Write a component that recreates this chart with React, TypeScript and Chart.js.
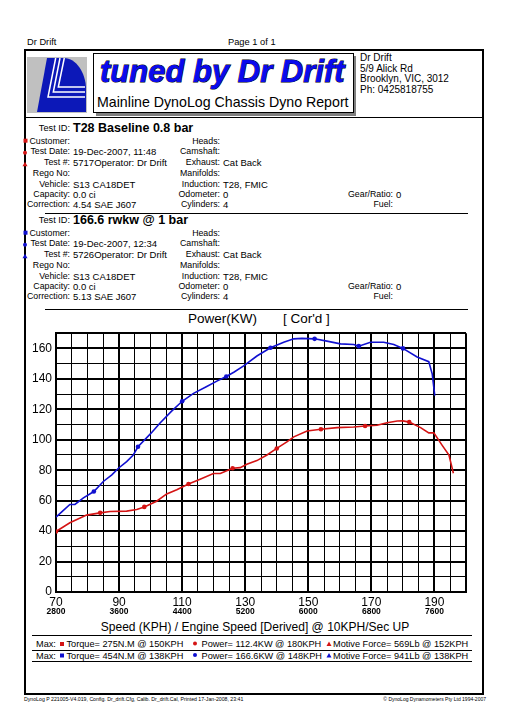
import React, { useEffect, useRef } from "react";
import { Chart, registerables } from "chart.js";

Chart.register(...registerables);

// ---------- DATA ----------
// Run 1 (red): T28 Baseline 0.8 bar
const RED_KPH = [70, 74.4, 79.7, 84, 87.1, 92.4, 95.6, 98, 101.9, 105.1, 108.3, 112, 115.7, 119.9, 122.1, 126, 128.4, 130.5, 133.7, 136.9, 140, 143.2, 145.4, 149.6, 154, 159.1, 164.4, 168, 171.8, 175, 178.2, 180, 182, 185.6, 188.2, 189.8, 192.4, 194.6, 196];
const RED_KW = [39.7, 45.5, 50.5, 52, 52.9, 53.1, 54.2, 55.9, 59.6, 64.4, 67.2, 70.9, 74.1, 77.8, 77.8, 81.3, 81.7, 83.9, 86.3, 90, 94.3, 98.6, 101.9, 105.8, 106.9, 108, 108.4, 109, 109.5, 111.2, 112.3, 112.4, 111.6, 108, 104.5, 104.5, 96.5, 90, 78];
const RED_MARKS = [70, 84, 98, 112, 126, 140, 154, 168, 182];

// Run 2 (blue): 166.6 rwkw @ 1 bar
const BLUE_KPH = [70, 72, 74.4, 76, 78.7, 82, 85, 87.7, 89.8, 92.4, 94.5, 96, 100, 103, 106.5, 110, 113.6, 117.8, 121, 124, 126.5, 129.5, 133.7, 138, 142.2, 145.4, 148, 152, 155.9, 160.2, 164.4, 166, 169.7, 173.9, 177.1, 180, 184.5, 188.2, 189.3, 190.1];
const BLUE_KW = [49.2, 53, 57.5, 57.5, 61.8, 66, 72.6, 77, 81.3, 85.6, 90, 95.4, 104, 111, 118.5, 125.3, 130.5, 135, 138.5, 141.6, 144.5, 148.5, 155, 160.4, 164.1, 166.3, 166.6, 166.3, 164.8, 163, 162.6, 161.5, 164.1, 164.1, 162.6, 160, 154.4, 151.3, 143.1, 129];
const BLUE_MARKS = [82, 96, 110, 124, 138, 152, 166, 180];

// Axes
const KPH_MIN = 70;
const KPH_MAX = 200;
const KPH_GRID_STEP = 5;
const KPH_MAJOR_STEP = 20;
const RPM_MIN = 2800;
const RPM_MAX = 8000;
const RPM_LABELS = [2800, 3600, 4400, 5200, 6000, 6800, 7600];
const KW_MIN = 0;
const KW_MAX = 170;
const KW_GRID_STEP = 10;
const KW_MAJOR_STEP = 20;

// Text content
const HEADER_LEFT = "Dr Drift";
const HEADER_PAGE = "Page 1 of 1";
const ADDRESS = ["Dr Drift", "5/9 Alick Rd", "Brooklyn, VIC, 3012", "Ph: 0425818755"];
const TITLE = "tuned by Dr Drift";
const SUBTITLE = "Mainline DynoLog Chassis Dyno Report";
const COL1_LABELS = ["Customer:", "Test Date:", "Test #:", "Rego No:", "Vehicle:", "Capacity:", "Correction:"];
const COL2_LABELS = ["Heads:", "Camshaft:", "Exhaust:", "Manifolds:", "Induction:", "Odometer:", "Cylinders:"];
const COL2_VALUES = ["", "", "Cat Back", "", "T28, FMIC", "0", "4"];
const RUN1_TITLE = "T28 Baseline 0.8 bar";
const RUN2_TITLE = "166.6 rwkw @ 1 bar";
const RUN1_COL1 = ["", "19-Dec-2007, 11:48", "5717Operator: Dr Drift", "", "S13 CA18DET", "0.0 ci", "4.54 SAE J607"];
const RUN2_COL1 = ["", "19-Dec-2007, 12:34", "5726Operator: Dr Drift", "", "S13 CA18DET", "0.0 ci", "5.13 SAE J607"];
const CHART_TITLE_A = "Power(KW)";
const CHART_TITLE_B = "[ Cor'd ]";
const X_TITLE = "Speed (KPH) / Engine Speed [Derived] @ 10KPH/Sec UP";
const MAX1 = ["Torque= 275N.M @ 150KPH", "Power= 112.4KW @ 180KPH", "Motive Force= 569Lb @ 152KPH"];
const MAX2 = ["Torque= 454N.M @ 138KPH", "Power= 166.6KW @ 148KPH", "Motive Force= 941Lb @ 138KPH"];
const FOOT_LEFT = "DynoLog P 221005-V4.019, Config. Dr_drift.Cfg, Calib. Dr_drift.Cal, Printed 17-Jan-2008, 23:41";
const FOOT_RIGHT = "\u00A9 DynoLog Dynamometers Pty Ltd 1994-2007";

const RED = "#d41414";
const BLUE = "#1010d0";
const W = 513;
const H = 728;
const FONT = '"Liberation Sans", Arial, Helvetica, sans-serif';

function range(a: number, b: number, s: number) {
  const r: number[] = [];
  for (let v = a; v <= b + 1e-9; v += s) r.push(Math.round(v * 1000) / 1000);
  return r;
}

function T({ x, y, t, s = 9.5, b = false, anchor = "start", fill = "#000" }: any) {
  return (
    <text x={x} y={y} fontSize={s} fontFamily={FONT} fontWeight={b ? "bold" : "normal"} textAnchor={anchor} dominantBaseline="central" fill={fill} style={{ whiteSpace: "pre" }}>
      {t}
    </text>
  );
}

function Marker({ kind, x, y, color }: any) {
  if (kind === 0) return <rect x={x - 2} y={y - 2} width={4} height={4} fill={color} />;
  if (kind === 1) return <circle cx={x} cy={y} r={2} fill={color} />;
  return <polygon points={`${x},${y - 2.5} ${x + 2.5},${y + 2} ${x - 2.5},${y + 2}`} fill={color} />;
}

function RunBlock({ base, title, col1, color }: any) {
  const offs = [12.7, 23.3, 34.3, 45, 56, 66, 76];
  const LS = 8.8;
  return (
    <g>
      <T x={70} y={base} t="Test ID:" s={9.2} anchor="end" />
      <T x={73} y={base} t={title} s={12.5} b />
      {COL1_LABELS.map((l, i) => (
        <g key={i}>
          <T x={70} y={base + offs[i]} t={l} s={LS} anchor="end" />
          <T x={73} y={base + offs[i]} t={col1[i]} />
          <T x={220} y={base + offs[i]} t={COL2_LABELS[i]} s={LS} anchor="end" />
          <T x={223} y={base + offs[i]} t={COL2_VALUES[i]} />
        </g>
      ))}
      <T x={393} y={base + offs[5]} t="Gear/Ratio:" s={LS} anchor="end" />
      <T x={396} y={base + offs[5]} t="0" />
      <T x={393} y={base + offs[6]} t="Fuel:" s={LS} anchor="end" />
      <Marker kind={0} x={25.5} y={base + offs[0]} color={color} />
      <Marker kind={1} x={25} y={base + offs[1] + 1.5} color={color} />
      <Marker kind={2} x={25} y={base + offs[2] + 2} color={color} />
    </g>
  );
}

function MaxRow({ y, items, color }: any) {
  return (
    <g>
      <T x={36} y={y} t="Max:" s={9.2} />
      <Marker kind={0} x={62} y={y} color={color} />
      <T x={66.5} y={y} t={items[0]} s={9.2} />
      <Marker kind={1} x={195} y={y - 0.5} color={color} />
      <T x={201.5} y={y} t={items[1]} s={9.2} />
      <Marker kind={2} x={329} y={y} color={color} />
      <T x={333} y={y} t={items[2]} s={9.2} />
    </g>
  );
}

function DynoChart() {
  const ref = useRef<HTMLCanvasElement>(null);
  useEffect(() => {
    if (!ref.current) return;
    Chart.defaults.font.family = FONT;
    const kphGrid = range(KPH_MIN, KPH_MAX, KPH_GRID_STEP);
    const kwGrid = range(KW_MIN, KW_MAX, KW_GRID_STEP);
    const isMajorX = (v: number) => (v - KPH_MIN) % KPH_MAJOR_STEP === 0 || v === KPH_MAX;
    const isMajorY = (v: number) => v % KW_MAJOR_STEP === 0 || v === KW_MAX;
    const mk = (xs: number[], ys: number[]) => xs.map((x, i) => ({ x, y: ys[i] }));
    const chart = new Chart(ref.current, {
      type: "line",
      data: {
        datasets: [
          {
            label: RUN1_TITLE,
            data: mk(RED_KPH, RED_KW),
            borderColor: RED,
            backgroundColor: RED,
            borderWidth: 1.6,
            tension: 0,
            pointRadius: (c: any) => (c.raw && RED_MARKS.includes(c.raw.x) ? 2.3 : 0),
            pointHoverRadius: 0,
            pointBorderWidth: 0,
          },
          {
            label: RUN2_TITLE,
            data: mk(BLUE_KPH, BLUE_KW),
            borderColor: BLUE,
            backgroundColor: BLUE,
            borderWidth: 1.6,
            tension: 0,
            pointRadius: (c: any) => (c.raw && BLUE_MARKS.includes(c.raw.x) ? 2.3 : 0),
            pointHoverRadius: 0,
            pointBorderWidth: 0,
          },
        ],
      },
      options: {
        animation: false,
        responsive: false,
        maintainAspectRatio: false,
        layout: { padding: { top: 7, right: 18, left: 0, bottom: 0 } },
        plugins: { legend: { display: false }, tooltip: { enabled: false }, title: { display: false } },
        scales: {
          x: {
            type: "linear",
            min: KPH_MIN,
            max: KPH_MAX,
            position: "bottom",
            afterBuildTicks: (s: any) => {
              s.ticks = kphGrid.map((v) => ({ value: v }));
            },
            afterFit: (s: any) => {
              s.height = 15;
            },
            grid: {
              color: "#000",
              drawTicks: false,
              lineWidth: (c: any) => (c.tick && isMajorX(c.tick.value) ? 2 : 1),
            },
            border: { color: "#000", width: 2 },
            ticks: {
              autoSkip: false,
              maxRotation: 0,
              padding: 3,
              color: "#000",
              font: { size: 12 },
              callback: (v: any) => ((v - KPH_MIN) % KPH_MAJOR_STEP === 0 && v < KPH_MAX ? String(v) : ""),
            },
          },
          rpm: {
            type: "linear",
            min: RPM_MIN,
            max: RPM_MAX,
            position: "bottom",
            afterBuildTicks: (s: any) => {
              s.ticks = RPM_LABELS.map((v) => ({ value: v }));
            },
            afterFit: (s: any) => {
              s.height = 15;
            },
            grid: { display: false, drawTicks: false },
            border: { display: false },
            ticks: {
              autoSkip: false,
              maxRotation: 0,
              padding: 0,
              color: "#000",
              font: { size: 8.5, weight: "bold" },
              callback: (v: any) => String(v),
            },
          },
          y: {
            type: "linear",
            min: KW_MIN,
            max: KW_MAX,
            afterBuildTicks: (s: any) => {
              s.ticks = kwGrid.map((v) => ({ value: v }));
            },
            afterFit: (s: any) => {
              s.width = 40;
            },
            grid: {
              color: "#000",
              drawTicks: false,
              lineWidth: (c: any) => (c.tick && isMajorY(c.tick.value) ? 2 : 1),
            },
            border: { color: "#000", width: 2 },
            ticks: {
              autoSkip: false,
              padding: 4,
              color: "#000",
              font: { size: 12 },
              callback: (v: any) => (v % KW_MAJOR_STEP === 0 && v < KW_MAX ? String(v) : ""),
            },
          },
        },
      } as any,
    });
    return () => chart.destroy();
  }, []);
  return <canvas ref={ref} width={468} height={300} style={{ position: "absolute", left: 16, top: 322, width: 468, height: 300 }} />;
}

export default function App() {
  return (
    <div style={{ position: "absolute", left: 0, top: 0, width: W, height: H, background: "#fff", overflow: "hidden" }}>
      <svg width={W} height={H} style={{ position: "absolute", left: 0, top: 0 }}>
        <T x={27} y={42} t={HEADER_LEFT} s={9.3} />
        <T x={228} y={42} t={HEADER_PAGE} s={9.3} />
        {/* outer frame */}
        <rect x={25} y={50} width={458} height={644} fill="none" stroke="#000" strokeWidth={2} />
        {/* logo */}
        <g transform="translate(27,57)">
          <rect x={0} y={0} width={60} height={56} fill="#c0c0c0" />
          <path d="M20,1 L37,1 C49,1 59,16 59,32 L59,55 L10,55 Z" fill="#0c18b8" />
          <polyline points="28.7,1 21,40 58,40" fill="none" stroke="#fff" strokeWidth={1.5} />
          <polyline points="33,1 26.3,35 58,35" fill="none" stroke="#fff" strokeWidth={1.5} />
          <polyline points="37.3,1 31.3,30 58,30" fill="none" stroke="#fff" strokeWidth={1.5} />
        </g>
        {/* title box */}
        <rect x={96} y={56} width={260} height={60} fill="#808080" />
        <rect x={93.5} y={53.5} width={260} height={59} fill="#fff" stroke="#000" strokeWidth={1} />
        <text x={100} y={82} fontSize={31} fontFamily={FONT} fontWeight="bold" fontStyle="italic" fill="#0a0aee" stroke="#000" strokeWidth={1} style={{ paintOrder: "stroke" }}>
          {TITLE}
        </text>
        <text x={97} y={106.5} fontSize={14.2} fontFamily={FONT} fill="#000">
          {SUBTITLE}
        </text>
        {ADDRESS.map((a, i) => (
          <T key={i} x={360} y={57.5 + i * 10.6} t={a} s={10} />
        ))}
        <line x1={25} x2={483} y1={117.5} y2={117.5} stroke="#000" strokeWidth={1} />
        <RunBlock base={128} title={RUN1_TITLE} col1={RUN1_COL1} color={RED} />
        <line x1={45} x2={468} y1={213.5} y2={213.5} stroke="#000" strokeWidth={1} />
        <RunBlock base={220} title={RUN2_TITLE} col1={RUN2_COL1} color={BLUE} />
        <line x1={45} x2={468} y1={309.5} y2={309.5} stroke="#000" strokeWidth={1} />
        <T x={188} y={318} t={CHART_TITLE_A} s={13.5} />
        <T x={283} y={318} t={CHART_TITLE_B} s={13.5} />
        <T x={255} y={627} t={X_TITLE} s={12} anchor="middle" />
        <line x1={32} x2={472} y1={635.5} y2={635.5} stroke="#000" strokeWidth={1} />
        <MaxRow y={644} items={MAX1} color={RED} />
        <line x1={32} x2={472} y1={650.5} y2={650.5} stroke="#000" strokeWidth={1} />
        <MaxRow y={655.5} items={MAX2} color={BLUE} />
        <line x1={32} x2={472} y1={661.5} y2={661.5} stroke="#000" strokeWidth={1} />
        <T x={24} y={699} t={FOOT_LEFT} s={5.2} />
        <T x={486} y={699} t={FOOT_RIGHT} s={5} anchor="end" />
      </svg>
      <DynoChart />
    </div>
  );
}
